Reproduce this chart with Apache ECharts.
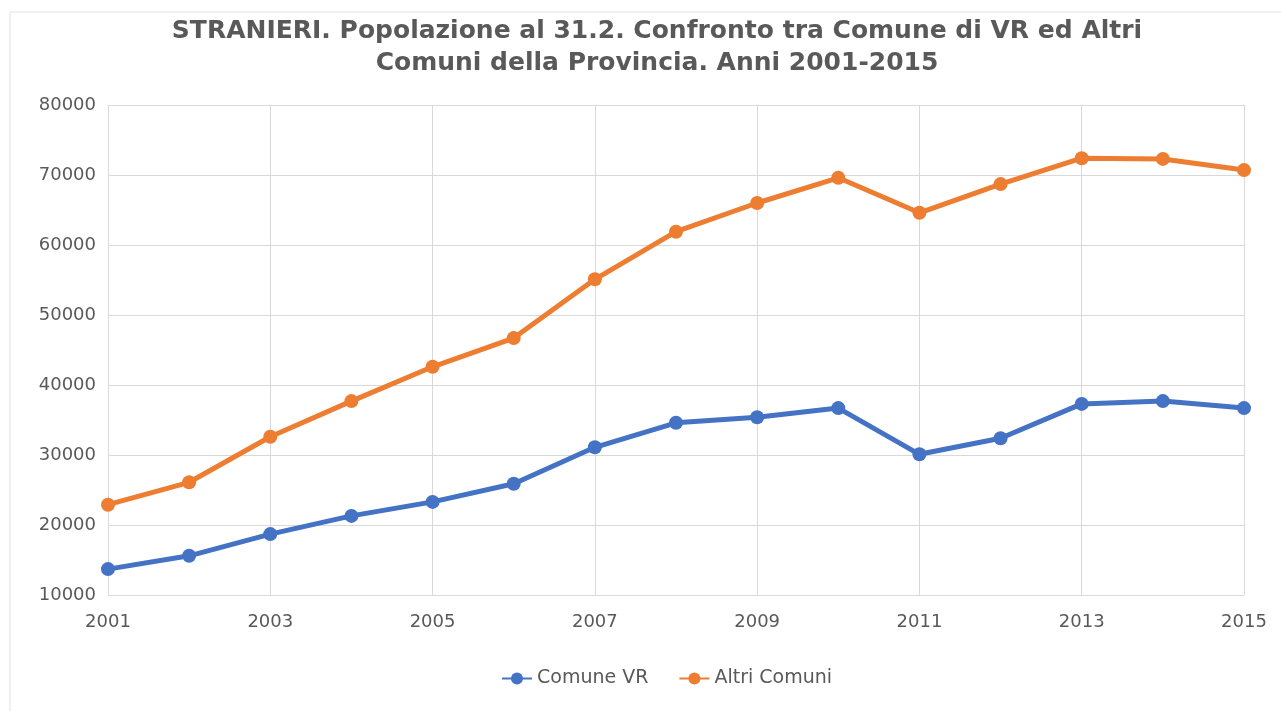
<!DOCTYPE html>
<html lang="it">
<head>
    <meta charset="UTF-8">
    <title>Stranieri VR</title>
    <style>
        html, body { margin: 0; padding: 0; background: #fff; }
        #main { width: 1281px; height: 711px; }
    </style>
</head>
<body>
<div id="main"></div>
<script src="https://cdn.jsdelivr.net/npm/echarts@6/dist/echarts.min.js"></script>
<script type="text/javascript">
    // dati
    var anni = [2001, 2002, 2003, 2004, 2005, 2006, 2007, 2008, 2009, 2010, 2011, 2012, 2013, 2014, 2015];
    var comuneVR = [13700, 15600, 18700, 21300, 23300, 25900, 31100, 34600, 35400, 36700, 30100, 32400, 37300, 37700, 36700];
    var altriComuni = [22900, 26100, 32600, 37700, 42600, 46700, 55100, 61900, 66000, 69600, 64600, 68700, 72400, 72300, 70700];

    function pairs(vals) {
        return anni.map(function (a, i) { return [a, vals[i]]; });
    }

    var myChart = echarts.init(document.getElementById('main'));
    var option = {
        backgroundColor: '#fff',
        animation: false,
        title: {
            left: 652,
            top: 10,
            textAlign: 'center',
            text: 'STRANIERI. Popolazione al 31.2. Confronto tra Comune di VR ed Altri\nComuni della Provincia. Anni 2001-2015',
            textStyle: {
                fontFamily: 'DejaVu Sans',
                fontSize: 25,
                fontWeight: 'bold',
                color: '#595959',
                lineHeight: 32
            }
        },
        graphic: [{
            type: 'rect',
            shape: { x: 10, y: 12, width: 1300, height: 720 },
            style: { fill: 'none', stroke: '#e2e2e2', lineWidth: 1 },
            silent: true
        }],
        legend: {
            bottom: 18,
            left: 496,
            itemGap: 30,
            itemWidth: 30,
            itemHeight: 15,
            textStyle: { fontFamily: 'DejaVu Sans', fontSize: 19, color: '#595959' },
            data: ['Comune VR', 'Altri Comuni']
        },
        grid: { left: 108, right: 37, top: 105, bottom: 116 },
        xAxis: {
            type: 'value',
            min: 2001,
            max: 2015,
            interval: 2,
            axisLine: { show: false },
            axisTick: { show: false },
            splitLine: { show: true, lineStyle: { color: '#d9d9d9', width: 1 } },
            axisLabel: {
                margin: 18, fontFamily: 'DejaVu Sans', fontSize: 18, color: '#595959',
                formatter: function (v) { return String(v); }
            }
        },
        yAxis: {
            type: 'value',
            min: 10000,
            max: 80000,
            interval: 10000,
            axisLine: { show: false },
            axisTick: { show: false },
            splitLine: { lineStyle: { color: '#d9d9d9', width: 1 } },
            axisLabel: {
                margin: 12, fontFamily: 'DejaVu Sans', fontSize: 18, color: '#595959',
                formatter: function (v) { return String(v); }
            }
        },
        series: [
            {
                name: 'Comune VR',
                type: 'line',
                symbol: 'circle',
                symbolSize: 14,
                itemStyle: { color: '#4472c4' },
                lineStyle: { width: 5, color: '#4472c4' },
                data: pairs(comuneVR)
            },
            {
                name: 'Altri Comuni',
                type: 'line',
                symbol: 'circle',
                symbolSize: 14,
                itemStyle: { color: '#ed7d31' },
                lineStyle: { width: 5, color: '#ed7d31' },
                data: pairs(altriComuni)
            }
        ]
    };
    myChart.setOption(option);
</script>
</body>
</html>
